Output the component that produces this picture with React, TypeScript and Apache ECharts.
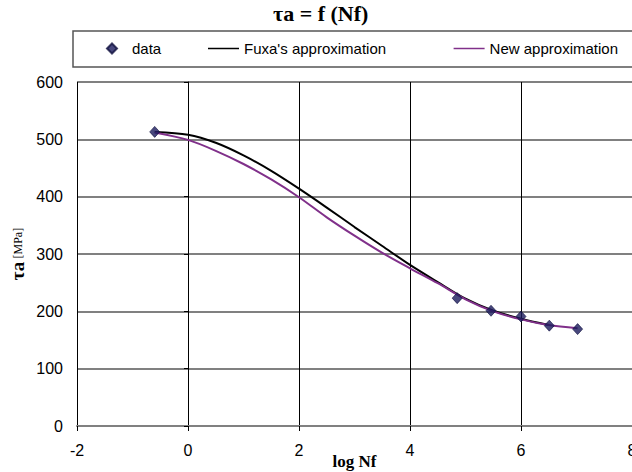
import React, { useEffect, useRef } from "react";
import * as echarts from "echarts";

// measured data points (log Nf, τa [MPa])
const dataX = [-0.6, 4.85, 5.46, 6.0, 6.51, 7.02];
const dataY = [513, 223, 201, 191, 175, 169];

// Fuxa's approximation
const fuxaX = [-0.6, 0, 0.5, 1, 1.5, 2, 2.5, 3, 3.5, 4, 4.5, 5, 5.5, 6, 6.5];
const fuxaY = [513, 508, 494, 472, 445, 414, 381, 347, 314, 281, 251, 222, 201, 187, 176];

// New approximation
const newX = [-0.6, 0, 0.5, 1, 1.5, 2, 2.5, 3, 3.5, 4, 4.5, 5, 5.5, 6, 6.5, 7.02];
const newY = [512, 499, 480, 457, 430, 399, 364, 332, 302, 275, 249, 221, 200, 186, 176, 170.5];

const seriesNames = ["data", "Fuxa's approximation", "New approximation"];
const titleText = "τa = f (Nf)";
const xName = "log Nf";

const zip = (xs: number[], ys: number[]) => xs.map((x, i) => [x, ys[i]]);

const sans = "Liberation Sans, Arial, sans-serif";
const serif = "Liberation Serif, Times New Roman, serif";

export default function App() {
  const ref = useRef<HTMLDivElement>(null);
  useEffect(() => {
    if (!ref.current) return;
    const chart = echarts.init(ref.current, null, { renderer: "svg" });
    const legendText = { fontSize: 15, fontFamily: sans, color: "#000" };
    chart.setOption({
      animation: false,
      backgroundColor: "#fff",
      title: {
        text: titleText,
        left: 273,
        top: 2,
        padding: 0,
        textStyle: { fontFamily: serif, fontWeight: "bold", fontSize: 22, color: "#000" },
      },
      graphic: [
        {
          type: "rect",
          shape: { x: 73, y: 31, width: 600, height: 36 },
          style: { fill: "none", stroke: "#555", lineWidth: 1.5 },
          z: 1,
        },
      ],
      legend: [
        {
          data: [{ name: seriesNames[0] }],
          left: 106,
          top: 41,
          padding: 0,
          itemWidth: 10,
          itemHeight: 10,
          textStyle: { ...legendText, padding: [0, 0, 0, 10] },
        },
        {
          data: [{ name: seriesNames[1], icon: "rect" }],
          left: 208,
          top: 41,
          padding: 0,
          itemWidth: 31,
          itemHeight: 1.5,
          textStyle: legendText,
        },
        {
          data: [{ name: seriesNames[2], icon: "rect" }],
          right: 14,
          top: 41,
          padding: 0,
          itemWidth: 31,
          itemHeight: 1.5,
          textStyle: legendText,
        },
      ],
      grid: { left: 77, right: 0, top: 82, bottom: 46, containLabel: false, outerBoundsMode: "none" },
      xAxis: {
        type: "value",
        min: -2,
        max: 8,
        interval: 2,
        name: xName,
        nameLocation: "middle",
        nameGap: 27,
        nameMoveOverlap: false,
        nameTextStyle: { fontFamily: serif, fontWeight: "bold", fontSize: 17, color: "#000" },
        axisLine: { show: true, onZero: false, lineStyle: { color: "#808080", width: 2 } },
        axisTick: { show: true, inside: false, length: 5, lineStyle: { color: "#000" } },
        axisLabel: { fontFamily: sans, fontSize: 16, color: "#000", margin: 16, hideOverlap: false },
        splitLine: { show: true, lineStyle: { color: "#000", width: 1 } },
      },
      yAxis: {
        type: "value",
        min: 0,
        max: 600,
        interval: 100,
        name: "{a|τa} {b|[MPa]}",
        nameLocation: "middle",
        nameGap: 50,
        nameMoveOverlap: false,
        nameTextStyle: {
          rich: {
            a: { fontFamily: serif, fontWeight: "bold", fontSize: 19, color: "#000" },
            b: { fontFamily: serif, fontSize: 12, color: "#000" },
          },
        },
        axisLine: { show: true, lineStyle: { color: "#000", width: 1 } },
        axisTick: { show: true, inside: false, length: 4, lineStyle: { color: "#000" } },
        axisLabel: { fontFamily: sans, fontSize: 16, color: "#000", margin: 14 },
        splitLine: { show: true, lineStyle: { color: "#808080", width: 2 } },
      },
      series: [
        {
          name: seriesNames[1],
          type: "line",
          data: zip(fuxaX, fuxaY),
          symbol: "none",
          showSymbol: false,
          smooth: 0.3,
          lineStyle: { color: "#000", width: 2 },
          itemStyle: { color: "#000" },
          z: 3,
        },
        {
          name: seriesNames[2],
          type: "line",
          data: zip(newX, newY),
          symbol: "none",
          showSymbol: false,
          smooth: 0.3,
          lineStyle: { color: "#80308a", width: 2 },
          itemStyle: { color: "#80308a" },
          z: 4,
        },
        {
          name: seriesNames[0],
          type: "scatter",
          data: zip(dataX, dataY),
          symbol: "diamond",
          symbolSize: [10, 11],
          itemStyle: { color: "#1a1a5c", borderColor: "#10103f", borderWidth: 0.8 },
          z: 5,
        },
      ],
    });
    return () => chart.dispose();
  }, []);
  return (
    <div
      ref={ref}
      style={{ position: "fixed", left: 0, top: 0, width: 632, height: 472 }}
    />
  );
}
